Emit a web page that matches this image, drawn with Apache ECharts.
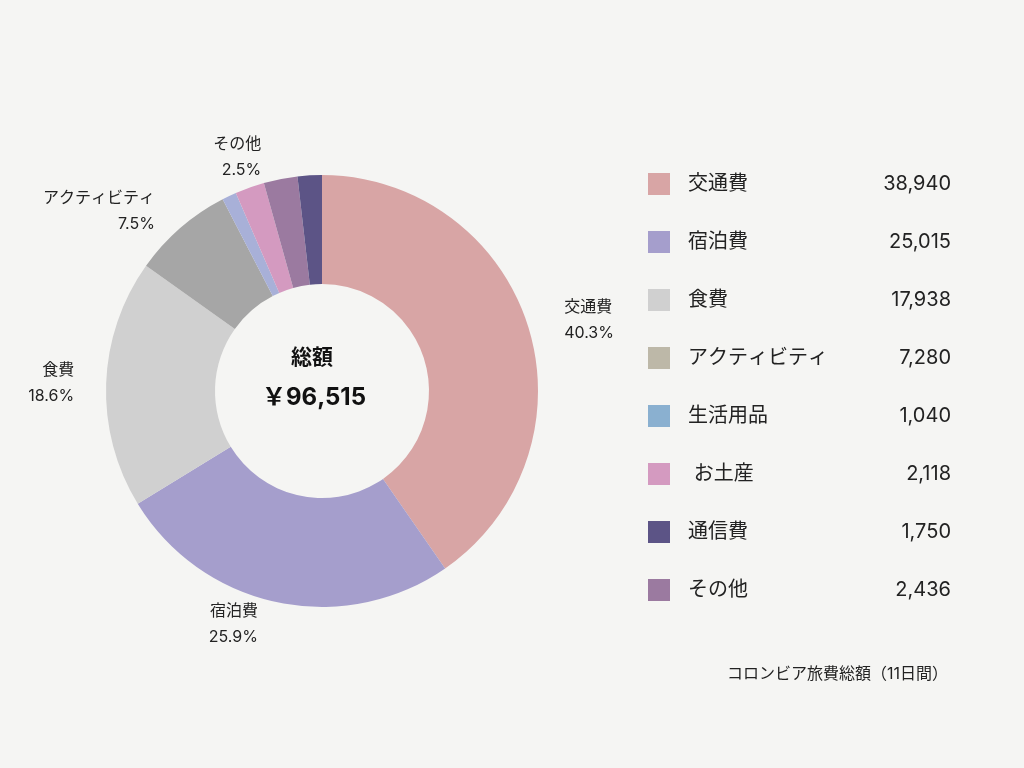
<!DOCTYPE html>
<html><head><meta charset="utf-8">
<script src="https://cdn.jsdelivr.net/npm/echarts@6/dist/echarts.min.js"></script>
<style>html,body{margin:0;background:#f5f5f3}#c{width:1024px;height:768px}</style>
</head><body><div id="c"></div>
<script>
const pieNames = ['交通費','宿泊費','食費','アクティビティ','生活用品','お土産','その他','通信費'];
const pieValues = [38940,25015,17938,7280,1040,2118,2436,1750];
const pieColors = ['#d8a5a5','#a59ecc','#d0d0d0','#a6a6a6','#a8b0d8','#d49ac0','#9b7aa0','#5c5486'];
const labeled = ['交通費','宿泊費','食費','アクティビティ','その他'];
const legendNames = ['交通費','宿泊費','食費','アクティビティ','生活用品','お土産','通信費','その他'];
const legendColors = ['#d8a5a5','#a59ecc','#d0d0d0','#bdb8a8','#8ab0d0','#d49ac0','#5c5486','#9b7aa0'];
const totalLabel = '￥96,515';
const F = 'Inter,"Noto Sans CJK JP","Noto Sans",sans-serif';
const sum = pieValues.reduce((a,b)=>a+b,0);
const valOf = n => pieValues[pieNames.indexOf(n)];
const chart = echarts.init(document.getElementById('c'));
chart.setOption({
  backgroundColor:'#f5f5f3',
  legend:{
    orient:'vertical', left:643, top:168, itemWidth:22, itemHeight:22, itemGap:36,
    icon:'rect', selectedMode:false,
    data: legendNames.map((n,i)=>({name:n, itemStyle:{color:legendColors[i]}})),
    formatter: n => '{n|'+(n==='お土産'?' お土産':n)+'}{v|'+valOf(n).toLocaleString('en-US')+'}',
    textStyle:{rich:{
      n:{width:165, padding:[0,0,0,13], fontSize:20, color:'#222', fontFamily:F},
      v:{width:98, align:'right', fontSize:20, color:'#222', fontFamily:F}
    }}
  },
  graphic:[
    {type:'text', left:291, top:347, style:{text:'総額', font:'bold 21px '+F, fill:'#111'}},
    {type:'text', left:262, top:386, style:{text:totalLabel, font:'bold 24px '+F, fill:'#111'}},
    {type:'text', right:76, top:666, style:{text:'コロンビア旅費総額（11日間）', font:'16px '+F, fill:'#222'}}
  ],
  series:[{
    type:'pie', center:[322,391], radius:[107,216], startAngle:90, clockwise:true,
    legendHoverLink:false, silent:true,
    data: pieNames.map((n,i)=>({name:n, value:pieValues[i], itemStyle:{color:pieColors[i]},
      label:{show:labeled.includes(n)}})),
    label:{position:'outside', formatter:p=>p.name+'\n'+(p.value/sum*100).toFixed(1)+'%', fontSize:16, lineHeight:26,
      color:'#222', fontFamily:F, textAlign:'center'},
    labelLine:{show:false, length:22, length2:10}
  }]
});
</script></body></html>
